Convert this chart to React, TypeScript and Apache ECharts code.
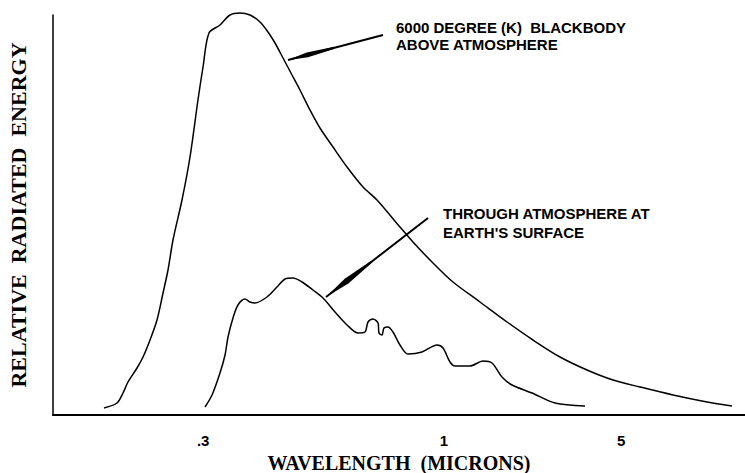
import React, { useEffect, useRef } from "react";
import * as echarts from "echarts";

// Position along the (schematic) wavelength axis, 0..100, and relative energy 0..100
const blackbodyX = [7.37, 9.25, 10.12, 10.84, 12.14, 13.01, 14.02, 15.03, 15.9, 16.62, 17.34, 18.64, 19.8, 20.95, 21.68, 22.54, 24.13, 25.58, 27.02, 28.47, 29.91, 31.07, 32.08, 33.24, 34.54, 35.69, 37.14, 38.58, 40.46, 42.49, 44.8, 46.82, 50.14, 52.02, 54.91, 57.8, 61.71, 65.61, 69.36, 73.27, 77.17, 80.92, 84.83, 89.6, 94.51, 98.12];
const blackbodyY = [1.75, 3.0, 5.5, 8.25, 11.75, 14.5, 18.75, 23.75, 30.5, 36.25, 43.75, 53.75, 64.5, 78.75, 87.0, 95.5, 97.5, 100, 100.5, 100, 98.25, 95.75, 93, 89.25, 85, 81.25, 76.25, 71.75, 67, 62, 57, 53.75, 47, 43.25, 38, 33.25, 28.25, 23.25, 18.75, 14.5, 11.25, 8.75, 7.0, 5.0, 3.25, 2.25];

const surfaceX = [21.97, 22.98, 24.13, 24.86, 25.29, 26.01, 26.73, 27.75, 28.47, 29.19, 30.92, 32.37, 33.53, 34.68, 35.98, 37.57, 39.02, 40.75, 42.49, 44.08, 45.09, 45.52, 46.24, 46.97, 47.11, 47.54, 47.83, 48.41, 49.13, 50.14, 51.3, 53.32, 55.49, 56.36, 57.37, 58.09, 60.26, 62.14, 63.44, 64.88, 66.33, 69.22, 72.54, 76.88];
const surfaceY = [2.0, 5.0, 10.5, 15.0, 19.5, 24.25, 27.5, 29.0, 28.25, 28.0, 29.5, 32.0, 34.0, 34.25, 33.25, 31.25, 29.25, 25.75, 22.5, 20.5, 20.75, 23.25, 24.0, 23.0, 20.5, 20.0, 21.75, 22.0, 20.75, 17.5, 15.25, 15.75, 17.5, 16.75, 13.25, 12.25, 12.25, 13.5, 13.0, 9.5, 7.5, 5.5, 3.0, 2.25];

const xTickValues = [21.7, 56.5, 82.1];
const xTickLabels = [".3", "1", "5"];

const annotationTop = ["6000 DEGREE (K)  BLACKBODY", "ABOVE ATMOSPHERE"];
const annotationBottom = ["THROUGH ATMOSPHERE AT", "EARTH'S SURFACE"];

function arrow(tip: number[], tail: number[], wideAt: number, halfW: number, endAt: number) {
  const dx = tail[0] - tip[0];
  const dy = tail[1] - tip[1];
  const len = Math.sqrt(dx * dx + dy * dy);
  const ux = dx / len, uy = dy / len;
  const px = -uy, py = ux;
  const pt = (d: number, w: number) => [tip[0] + ux * d + px * w, tip[1] + uy * d + py * w];
  return [
    {
      type: "line",
      shape: { x1: tip[0], y1: tip[1], x2: tail[0], y2: tail[1] },
      style: { stroke: "#000", lineWidth: 2 },
    },
    {
      type: "polygon",
      shape: { points: [pt(0, 0), pt(wideAt, halfW), pt(endAt, 1), pt(endAt, -1), pt(wideAt, -halfW)] },
      style: { fill: "#000" },
    },
  ];
}

export default function App() {
  const ref = useRef<HTMLDivElement>(null);
  useEffect(() => {
    if (!ref.current) return;
    const chart = echarts.init(ref.current, null, { renderer: "svg" });
    const annFont = { fontFamily: "Liberation Sans", fontWeight: "bold", fontSize: 15, lineHeight: 15, fill: "#000" };
    chart.setOption({
      animation: false,
      backgroundColor: "#fff",
      grid: { left: 53, right: 0, top: 15, bottom: 58, containLabel: false, outerBoundsMode: "none" },
      xAxis: {
        type: "value",
        min: 0,
        max: 100,
        name: "WAVELENGTH  (MICRONS)",
        nameLocation: "middle",
        nameGap: 37,
        nameTextStyle: { fontFamily: "Liberation Serif", fontWeight: "bold", fontSize: 20, color: "#000" },
        axisLine: { lineStyle: { color: "#000", width: 2 } },
        axisTick: { show: false },
        splitLine: { show: false },
        axisLabel: {
          customValues: xTickValues,
          margin: 18,
          color: "#000",
          fontFamily: "Liberation Sans",
          fontWeight: "bold",
          fontSize: 15,
          formatter: (v: number) => {
            const i = xTickValues.findIndex((t) => Math.abs(t - v) < 0.01);
            return i >= 0 ? xTickLabels[i] : "";
          },
        },
      },
      yAxis: {
        type: "value",
        min: 0,
        max: 100,
        name: "RELATIVE  RADIATED  ENERGY",
        nameLocation: "middle",
        nameGap: 24,
        nameRotate: 90,
        nameTextStyle: { fontFamily: "Liberation Serif", fontWeight: "bold", fontSize: 22, color: "#000" },
        axisLine: { show: true, lineStyle: { color: "#000", width: 1.5 } },
        axisTick: { show: false },
        axisLabel: { show: false },
        splitLine: { show: false },
      },
      series: [
        {
          name: "6000 DEGREE (K) BLACKBODY ABOVE ATMOSPHERE",
          type: "line",
          data: blackbodyX.map((x, i) => [x, blackbodyY[i]]),
          smooth: 0.3,
          showSymbol: false,
          clip: false,
          lineStyle: { color: "#000", width: 1.5 },
        },
        {
          name: "THROUGH ATMOSPHERE AT EARTH'S SURFACE",
          type: "line",
          data: surfaceX.map((x, i) => [x, surfaceY[i]]),
          smooth: 0.3,
          showSymbol: false,
          clip: false,
          lineStyle: { color: "#000", width: 1.5 },
        },
      ],
      graphic: [
        { type: "text", left: 396, top: 20, style: { ...annFont, text: annotationTop[0] } },
        { type: "text", left: 396, top: 37, style: { ...annFont, text: annotationTop[1] } },
        { type: "text", left: 443, top: 206, style: { ...annFont, text: annotationBottom[0] } },
        { type: "text", left: 443, top: 225, style: { ...annFont, text: annotationBottom[1] } },
        ...arrow([288, 60], [383, 35], 20, 2.5, 48),
        ...arrow([326, 297], [428, 218], 26, 3, 58),
      ],
    });
    return () => chart.dispose();
  }, []);
  return <div ref={ref} style={{ position: "fixed", left: 0, top: 0, width: 745, height: 473 }} />;
}
